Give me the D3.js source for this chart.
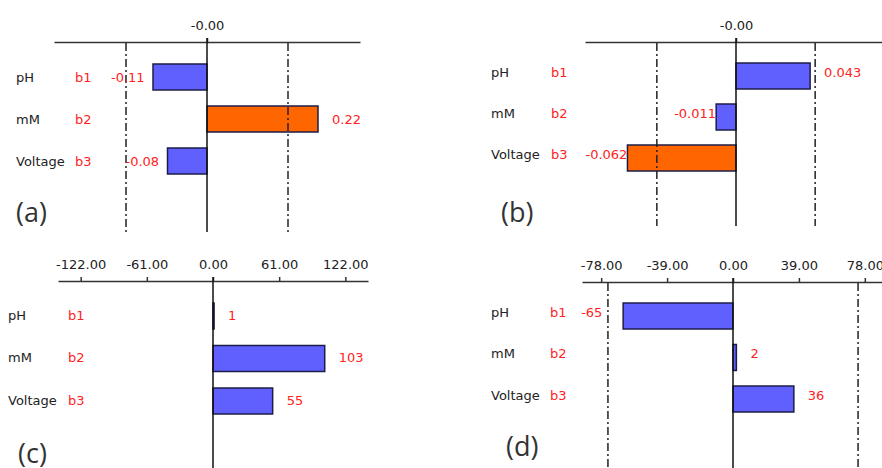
<!DOCTYPE html>
<html>
<head>
<meta charset="utf-8">
<script src="https://cdn.jsdelivr.net/npm/d3@7"></script>
<style>
  body { margin: 0; background: #fff; }
  text { font-family: "DejaVu Sans", sans-serif; font-size: 13px; }
</style>
</head>
<body>
<svg id="chart" width="882" height="468"></svg>
<script>
const factors = ["pH", "mM", "Voltage"];
const codes = ["b1", "b2", "b3"];

const effectsA = [-0.108, 0.222, -0.079];
const effectsB = [0.0426, -0.0114, -0.0624];
const effectsC = [1, 103, 55];
const effectsD = [-65, 2, 36];

// significance limits (dash-dot lines); c has none drawn
const limitA = 0.162;
const limitB = 0.0455;
const limitC = null;
const limitD = 74;

const ticksA = [0], tickLabelsA = ["-0.00"];
const ticksB = [0], tickLabelsB = ["-0.00"];
const ticksC = [-122, -61, 0, 61, 122];
const ticksD = [-78, -39, 0, 39, 78];

// plain hyphen for negatives, like the original software
const loc = d3.formatLocale({decimal: ".", thousands: ",", grouping: [3], currency: ["", ""], minus: "-"});

const panels = [
  {letter: "(a)", values: effectsA, limit: limitA, ticks: ticksA, tickLabels: tickLabelsA, fmt: loc.format(".2f"),
   half: 0.306, x0: 54, x1: 360, axisY: 42, bottom: 232, nameX: 16, codeX: 75, rowY: 77, step: 42, textDy: 0,
   letterX: 16, letterY: 222},
  {letter: "(b)", values: effectsB, limit: limitB, ticks: ticksB, tickLabels: tickLabelsB, fmt: loc.format(".3f"),
   half: 0.0868, x0: 585, x1: 887, axisY: 42, bottom: 226, nameX: 491, codeX: 551, rowY: 76, step: 41, textDy: -4,
   letterX: 501, letterY: 222},
  {letter: "(c)", values: effectsC, limit: limitC, ticks: ticksC, tickLabels: null, fmt: loc.format("d"),
   half: 142.9, x0: 58, x1: 368, axisY: 281, bottom: 468, nameX: 8, codeX: 68, rowY: 316, step: 42.5, textDy: -1,
   letterX: 18, letterY: 463},
  {letter: "(d)", values: effectsD, limit: limitD, ticks: ticksD, tickLabels: null, fmt: loc.format("d"),
   half: 89.35, x0: 582, x1: 884, axisY: 282, bottom: 468, nameX: 491, codeX: 550, rowY: 316, step: 41.5, textDy: -4,
   letterX: 506, letterY: 456}
];

const svg = d3.select("#chart");
const red = "#ff2222";
const barH = 26;

panels.forEach(p => drawPanel(p));

function drawPanel(p){
    const g = svg.append("g");
    const x = d3.scaleLinear().domain([-p.half, p.half]).range([p.x0, p.x1]);
    const rowY = i => p.rowY + i * p.step;

    // axis along the top
    const axis = d3.axisTop(x).tickValues(p.ticks).tickSize(4).tickPadding(8).tickSizeOuter(0);
    if (p.tickLabels) axis.tickFormat((d, i) => p.tickLabels[i]);
    else axis.tickFormat(loc.format(".2f"));
    const ax = g.append("g").attr("transform", `translate(0,${p.axisY})`).call(axis);
    ax.select(".domain").attr("stroke", "#333").attr("stroke-width", 1.5);
    ax.selectAll(".tick line").attr("stroke", "#333").attr("stroke-width", 1.5);
    ax.selectAll(".tick text").attr("fill", "#222").style("font-size", "13px")
        .style("font-family", "DejaVu Sans, sans-serif");

    // bars
    g.selectAll(".bar").data(p.values).join("rect")
        .attr("x", d => x(Math.min(0, d)))
        .attr("y", (d, i) => rowY(i) - barH / 2)
        .attr("width", d => Math.abs(x(d) - x(0)))
        .attr("height", barH)
        .attr("fill", d => (p.limit != null && Math.abs(d) > p.limit) ? "#ff6600" : "#6060ff")
        .attr("stroke", "#1c1c48")
        .attr("stroke-width", 1.5);

    // limit lines
    if (p.limit != null){
        g.selectAll(".lim").data([-p.limit, p.limit]).join("line")
            .attr("x1", d => x(d)).attr("x2", d => x(d))
            .attr("y1", p.axisY + 1).attr("y2", p.bottom)
            .attr("stroke", "#222").attr("stroke-width", 1.5)
            .attr("stroke-dasharray", "8,3,2,3");
    }

    // zero line
    g.append("line")
        .attr("x1", x(0)).attr("x2", x(0))
        .attr("y1", p.axisY - 4).attr("y2", p.bottom)
        .attr("stroke", "#111").attr("stroke-width", 1.5);

    // row labels
    g.selectAll(".name").data(factors).join("text")
        .attr("x", p.nameX).attr("y", (d, i) => rowY(i) + p.textDy).attr("dy", "0.35em")
        .attr("fill", "#222").text(d => d);
    g.selectAll(".code").data(codes).join("text")
        .attr("x", p.codeX).attr("y", (d, i) => rowY(i) + p.textDy).attr("dy", "0.35em")
        .attr("fill", red).text(d => d);

    // value labels
    g.selectAll(".val").data(p.values).join("text")
        .attr("x", d => d < 0 ? x(d) - 42 : x(d) + 14)
        .attr("y", (d, i) => rowY(i) + p.textDy).attr("dy", "0.35em")
        .attr("fill", red).text(d => p.fmt(d));

    // panel letter
    g.append("text")
        .attr("x", p.letterX).attr("y", p.letterY)
        .attr("fill", "#333")
        .style("font-family", "Open Sans, sans-serif").style("font-size", "27px")
        .text(p.letter);
}
</script>
</body>
</html>
